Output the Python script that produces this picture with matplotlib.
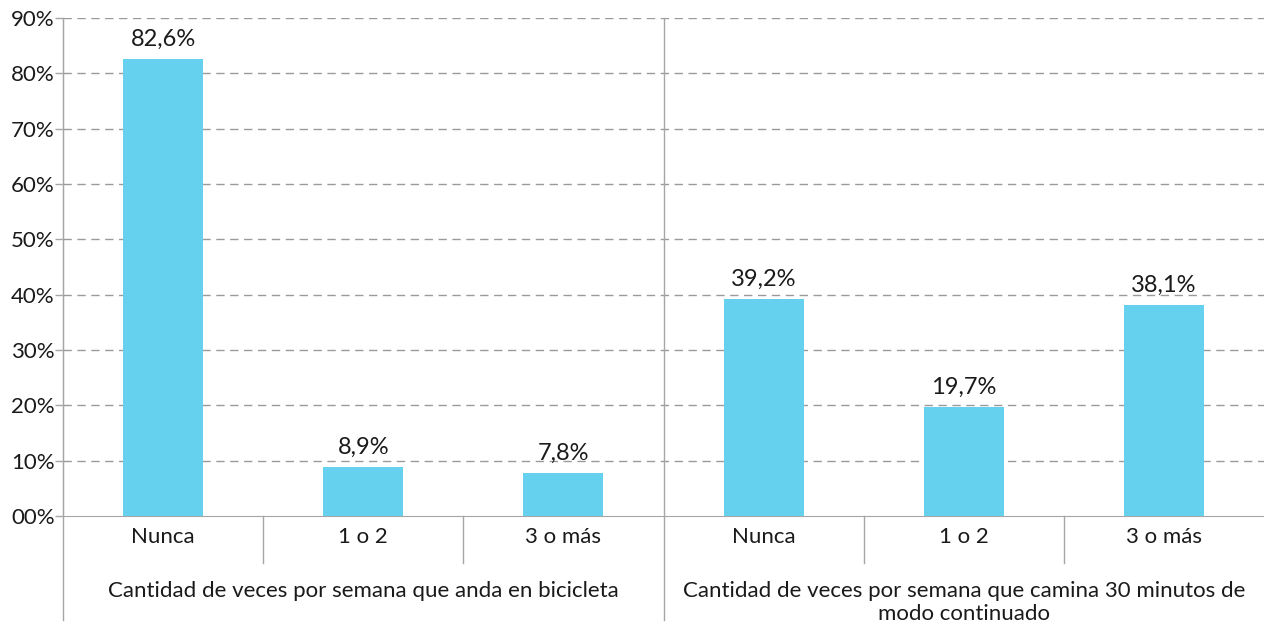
import numpy as np
import matplotlib.pyplot as plt

plt.rcParams['font.family'] = ['Lato', 'DejaVu Sans']

# datos
categorias = ["Nunca", "1 o 2", "3 o más", "Nunca", "1 o 2", "3 o más"]
valores = [82.6, 8.9, 7.8, 39.2, 19.7, 38.1]
grupos = ["Cantidad de veces por semana que anda en bicicleta",
          "Cantidad de veces por semana que camina 30 minutos de\nmodo continuado"]
ticks_y = [0, 10, 20, 30, 40, 50, 60, 70, 80, 90]
ticks_txt = ["00%", "10%", "20%", "30%", "40%", "50%", "60%", "70%", "80%", "90%"]

color_barra = "#66D1EE"
gris = "#A6A6A6"
negro = "#1a1a1a"

fig = plt.figure(figsize=(12.64, 6.29), dpi=100)
ax = fig.add_axes([63/1264, 1 - 516/629, 1 - 63/1264, 498/629])

x = np.arange(len(valores))
ax.bar(x, valores, width=0.4, color=color_barra, zorder=3)

for xi, v in zip(x, valores):
    ax.text(xi, v + 1.6, f"{v:.1f}%".replace(".", ","), ha="center", va="bottom",
            fontsize=17, color=negro)

ax.set_xlim(-0.5, 5.5)
ax.set_ylim(0, 90)
ax.set_yticks(ticks_y)
ax.set_yticklabels(ticks_txt, fontsize=16, color=negro)
ax.tick_params(axis="y", length=6, width=1, color=gris, pad=0)
ax.set_xticks([])

for yv in ticks_y[1:]:
    ax.axhline(yv, color="#9a9a9a", linestyle=(0, (6, 4)), linewidth=1.0, zorder=1)

for s in ["top", "right"]:
    ax.spines[s].set_visible(False)
ax.spines["left"].set_color(gris)
ax.spines["bottom"].set_color(gris)

trans = ax.get_xaxis_transform()
# separadores de categorías
for xs in [0.5, 1.5, 3.5, 4.5]:
    ax.plot([xs, xs], [0, -0.094], color=gris, lw=1, transform=trans, clip_on=False)
# separadores de grupo
for xs in [-0.5, 2.5]:
    ax.plot([xs, xs], [1, -0.209], color=gris, lw=1, transform=trans, clip_on=False)

for xi, c in zip(x, categorias):
    ax.text(xi, -0.043, c, ha="center", va="center", fontsize=16,
            color=negro, transform=trans)

ax.text(1, -0.13, grupos[0], ha="center", va="top", fontsize=16,
        color=negro, transform=trans)
ax.text(4, -0.13, grupos[1], ha="center", va="top", fontsize=16,
        color=negro, transform=trans, linespacing=1.2)

fig.savefig("out.png", dpi=100)
